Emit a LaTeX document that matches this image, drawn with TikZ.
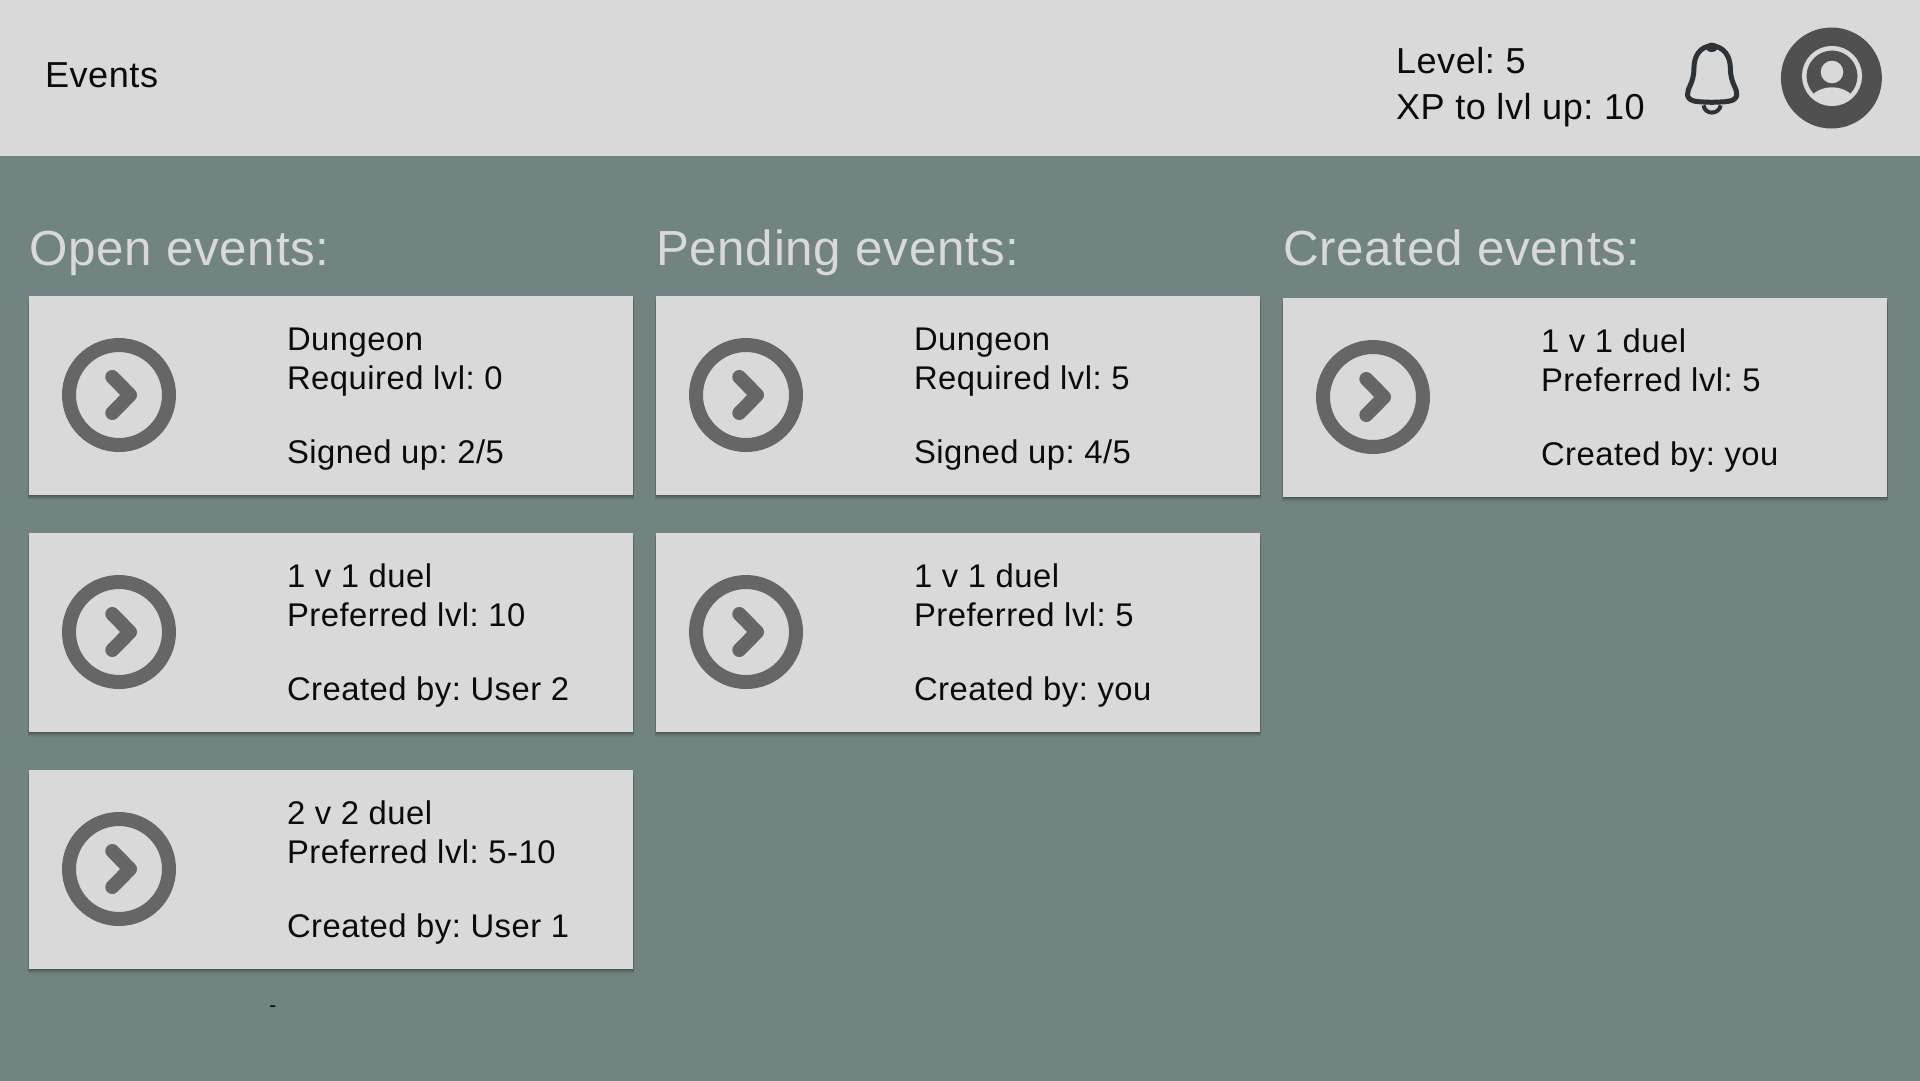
\documentclass[tikz,border=0pt]{standalone}
\usepackage{fontspec}
\setmainfont[LetterSpace=1.5]{Liberation Sans}
\frenchspacing
\definecolor{bgc}{HTML}{728482}
\definecolor{panel}{HTML}{D9D9D9}
\definecolor{icon}{HTML}{666666}
\definecolor{avatar}{HTML}{505050}
\definecolor{bellc}{HTML}{2C3237}
\definecolor{ink}{HTML}{0B0B0B}
\tikzset{
  x=1pt,y=-1pt,
  txt/.style={anchor=base west,inner sep=0pt,outer sep=0pt,text=ink},
  cardtext/.style={txt,font=\fontsize{32.8}{38}\selectfont},
  toptext/.style={txt,font=\fontsize{36.1}{46}\selectfont},
  heading/.style={txt,text=panel,font=\fontsize{49.3}{58}\selectfont},
  panelbox/.style={fill=panel,draw=none},
  ringicon/.style={draw=icon,line width=14pt,fill=none},
  chevron/.style={draw=icon,line width=14pt,line cap=round,line join=round,fill=none},
}
\newcommand{\evcard}[6]{%
  \foreach \o/\a in {5/.04,4/.05,3/.07,2/.09,1/.11}{
    \fill[black,opacity=\a] (#2-\o*0.25,#3+\o) rectangle (#2+604+\o*0.25,#3+199+\o);
  }
  \node[panelbox,minimum width=604pt,minimum height=199pt,inner sep=0pt,anchor=north west] (#1) at (#2,#3) {};
  \node[ringicon,circle,minimum size=100pt,inner sep=0pt] (#1icon) at (#2+90,#3+99) {};
  \draw[chevron] (#2+83.3,#3+81) -- (#2+101,#3+99) -- (#2+83.3,#3+117);
  \node[cardtext] (#1a) at (#2+258,#3+54) {#4};
  \node[cardtext] (#1b) at (#2+258,#3+93) {#5};
  \node[cardtext] (#1c) at (#2+258,#3+167) {#6};
}
\begin{document}
\begin{tikzpicture}
\useasboundingbox (0,0) rectangle (1920,1080);
\fill[bgc] (-5,-5) rectangle (1925,1085);
\fill[panel] (-5,-5) rectangle (1925,156);
\node[toptext] (title) at (45,87) {Events};
\node[toptext] (level) at (1396,73) {Level: 5};
\node[toptext] (xp) at (1396,119) {XP to lvl up: 10};
% bell
\begin{scope}[shift={(1360,0)},x=0.35714pt,y=-0.3333pt]
\draw[bellc,line width=5pt,line join=round]
  (985,137) .. controls (950,140) and (935,170) .. (935,205)
  .. controls (935,250) and (915,265) .. (917,285)
  .. controls (920,308) and (950,305) .. (985,307)
  .. controls (1020,305) and (1052,308) .. (1055,285)
  .. controls (1057,265) and (1037,250) .. (1037,205)
  .. controls (1037,170) and (1020,140) .. (985,137) -- cycle;
\draw[bellc,line width=4pt] (962,316) .. controls (965,345) and (1005,345) .. (1010,316);
\fill[bellc] (985,142) ellipse [x radius=17,y radius=14];
\end{scope}
% avatar
\fill[avatar] (1831.4,78) circle (50.5);
\begin{scope}
\clip (1832,76) circle (27);
\fill[panel] (1832,105.3) ellipse [x radius=24,y radius=18];
\end{scope}
\draw[panel,line width=4.5pt] (1832,76) circle (27.8);
\fill[panel] (1832,72) circle (11.3);
% headings
\node[heading] (h1) at (29,265) {Open events:};
\node[heading] (h2) at (656,265) {Pending events:};
\node[heading] (h3) at (1283,265) {Created events:};
% cards
\evcard{a}{29}{296}{Dungeon}{Required lvl: 0}{Signed up: 2/5}
\evcard{b}{29}{533}{1 v 1 duel}{Preferred lvl: 10}{Created by: User 2}
\evcard{c}{29}{770}{2 v 2 duel}{Preferred lvl: 5-10}{Created by: User 1}
\evcard{d}{656}{296}{Dungeon}{Required lvl: 5}{Signed up: 4/5}
\evcard{e}{656}{533}{1 v 1 duel}{Preferred lvl: 5}{Created by: you}
\evcard{f}{1283}{298}{1 v 1 duel}{Preferred lvl: 5}{Created by: you}
\node[txt,font=\fontsize{22}{24}\selectfont] (dash) at (269,1012) {-};
\end{tikzpicture}
\end{document}
